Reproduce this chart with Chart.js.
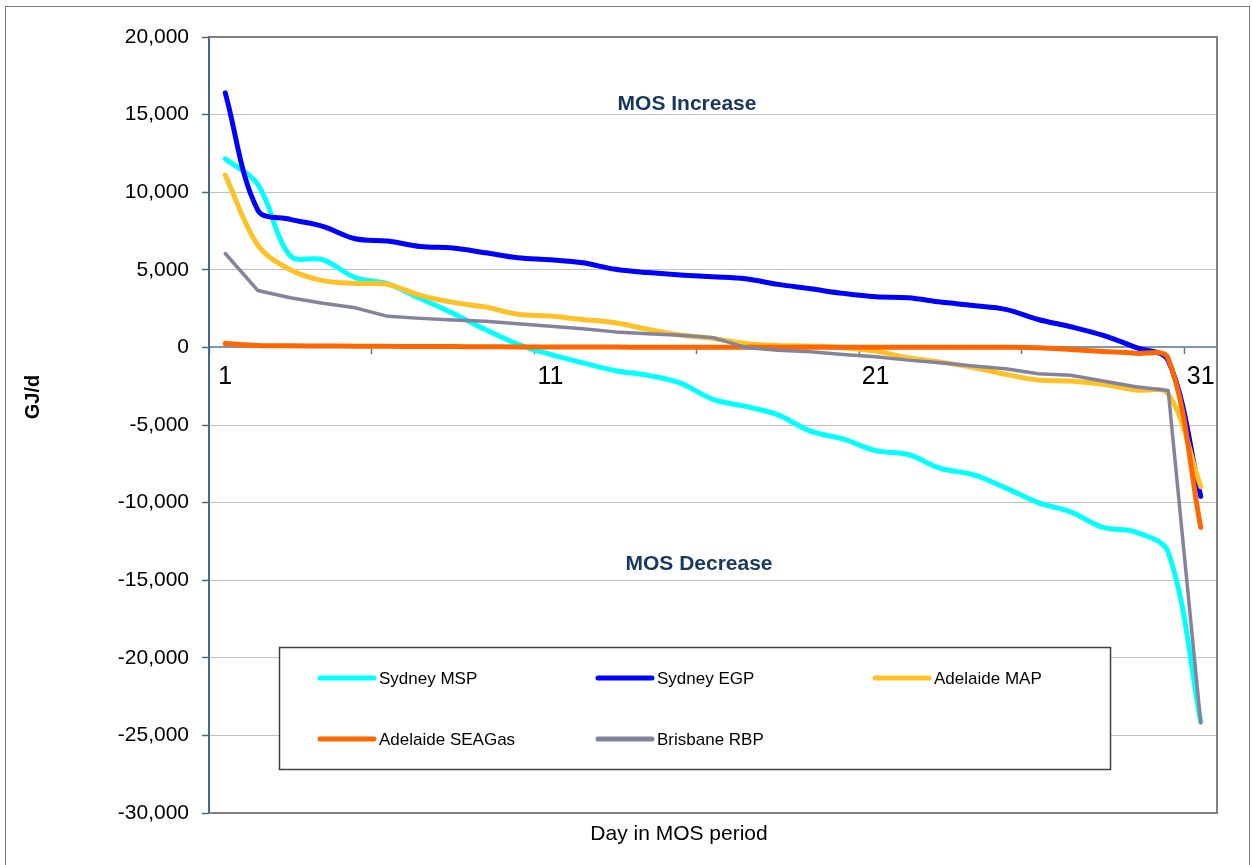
<!DOCTYPE html>
<html>
<head>
<meta charset="utf-8">
<script src="https://cdn.jsdelivr.net/npm/chart.js@4.4.1/dist/chart.umd.min.js"></script>
<style>
  html, body { margin: 0; padding: 0; background: #fff; }
  #wrap { position: relative; width: 1252px; height: 865px; }
</style>
</head>
<body>
<div id="wrap"><canvas id="myChart"></canvas></div>
<script>
var days = [1,2,3,4,5,6,7,8,9,10,11,12,13,14,15,16,17,18,19,20,21,22,23,24,25,26,27,28,29,30,31];
var tickDays = [1, 11, 21, 31];

var sydneyMSP = [12150, 10500, 5900, 5650, 4500, 4100, 3150, 2200, 1150, 200,
  -450, -1000, -1500, -1800, -2300, -3350, -3800, -4350, -5400, -5900,
  -6650, -6900, -7800, -8200, -9050, -10000, -10600, -11600, -11900, -13200, -24100];
var sydneyEGP = [16400, 8850, 8250, 7800, 7000, 6850, 6500, 6400, 6100, 5780,
  5650, 5450, 5030, 4820, 4660, 4550, 4420, 4060, 3780, 3480,
  3260, 3200, 2920, 2700, 2450, 1800, 1330, 770, 0, -850, -9600];
var adelaideMAP = [11100, 6600, 5000, 4300, 4120, 4060, 3350, 2900, 2600, 2130,
  2020, 1800, 1590, 1160, 800, 580, 260, 130, 80, -20,
  -240, -670, -950, -1300, -1740, -2100, -2170, -2380, -2750, -3000, -8980];
var adelaideSEAGas = [250, 130, 100, 90, 80, 70, 60, 50, 40, 30,
  25, 20, 20, 15, 15, 10, 10, 10, 10, 10,
  10, 10, 10, 10, 10, -20, -130, -260, -380, -700, -11600];
var brisbaneRBP = [6050, 3670, 3200, 2850, 2550, 2000, 1870, 1760, 1680, 1520,
  1370, 1200, 1000, 880, 780, 630, 0, -180, -280, -450,
  -600, -820, -990, -1200, -1370, -1700, -1800, -2170, -2530, -2780, -24200];

var FONT = "'Liberation Sans', Arial, sans-serif";

// frame, notes, axis titles and the boxed legend
var extras = {
  id: 'extras',
  beforeDatasetsDraw: function(chart) {
    var a = chart.chartArea, ctx = chart.ctx;
    ctx.save();
    ctx.strokeStyle = '#808080';
    ctx.lineWidth = 2;
    ctx.beginPath();
    ctx.moveTo(a.left, a.top);
    ctx.lineTo(a.right, a.top);
    ctx.lineTo(a.right, a.bottom);
    ctx.lineTo(a.left, a.bottom);
    ctx.stroke();
    ctx.restore();
  },
  afterDraw: function(chart) {
    var ctx = chart.ctx;
    ctx.save();
    // outer chart border
    ctx.strokeStyle = '#7a7a7a';
    ctx.lineWidth = 1;
    ctx.strokeRect(5.5, 6.5, 1244, 900);

    ctx.fillStyle = '#17375E';
    ctx.font = 'bold 21px ' + FONT;
    ctx.textAlign = 'center';
    ctx.textBaseline = 'middle';
    ctx.fillText('MOS Increase', 687, 104);
    ctx.fillText('MOS Decrease', 699, 564);

    ctx.fillStyle = '#000';
    ctx.font = '21px ' + FONT;
    ctx.fillText('Day in MOS period', 679, 834);

    ctx.save();
    ctx.translate(33, 397);
    ctx.rotate(-Math.PI / 2);
    ctx.font = 'bold 20px ' + FONT;
    ctx.fillText('GJ/d', 0, 0);
    ctx.restore();

    // legend box
    ctx.fillStyle = '#fff';
    ctx.fillRect(279.5, 647.5, 831, 122);
    ctx.strokeStyle = '#404040';
    ctx.lineWidth = 1.5;
    ctx.strokeRect(279.5, 647.5, 831, 122);
    var cols = [320, 598, 875];
    var rows = [678, 739];
    ctx.font = '17px ' + FONT;
    ctx.textAlign = 'left';
    chart.data.datasets.forEach(function(ds, i) {
      var x = cols[i % 3], y = rows[Math.floor(i / 3)];
      ctx.strokeStyle = ds.borderColor;
      ctx.lineWidth = 5;
      ctx.lineCap = 'round';
      ctx.beginPath();
      ctx.moveTo(x, y);
      ctx.lineTo(x + 54, y);
      ctx.stroke();
      ctx.fillStyle = '#000';
      ctx.fillText(ds.label, x + 59, y + 1);
    });
    ctx.restore();
  }
};

function series(label, data, color, width, tension, order) {
  return {
    label: label, data: data, borderColor: color, backgroundColor: color,
    borderWidth: width, tension: tension, pointRadius: 0,
    borderCapStyle: 'round', borderJoinStyle: 'round', fill: false, order: order
  };
}

new Chart('myChart', {
  type: 'line',
  data: {
    labels: days,
    datasets: [
      series('Sydney MSP', sydneyMSP, '#00FFFF', 5, 0.35, 5),
      series('Sydney EGP', sydneyEGP, '#0000FF', 5, 0.35, 4),
      series('Adelaide MAP', adelaideMAP, '#FFC125', 5, 0.35, 3),
      series('Adelaide SEAGas', adelaideSEAGas, '#FF6600', 5, 0.35, 2),
      series('Brisbane RBP', brisbaneRBP, '#83839E', 3.5, 0, 1)
    ]
  },
  options: {
    responsive: true,
    maintainAspectRatio: false,
    animation: false,
    layout: { padding: { left: 0, top: 37, right: 35, bottom: 52 } },
    plugins: { legend: { display: false }, tooltip: { enabled: false } },
    scales: {
      x: {
        type: 'category',
        position: { y: 0 },
        offset: true,
        grid: {
          offset: true,
          drawOnChartArea: false,
          drawTicks: true,
          tickLength: 6,
          tickWidth: 1.5,
          tickColor: function(c) { return (c.index !== undefined && c.index % 5 === 0) ? '#5A7896' : 'rgba(0,0,0,0)'; }
        },
        border: { display: true, color: '#7F96B0', width: 2 },
        ticks: {
          autoSkip: false,
          maxRotation: 0,
          minRotation: 0,
          padding: 9,
          color: '#000',
          font: { family: FONT, size: 25 },
          callback: function(v) {
            var d = this.getLabelForValue(v);
            return tickDays.indexOf(d) >= 0 ? String(d) : '';
          }
        }
      },
      y: {
        min: -30000,
        max: 20000,
        afterFit: function(scale) { scale.width = 209; },
        grid: { color: '#C0C0C0', lineWidth: 1, tickLength: 7, tickColor: '#4A6786', tickWidth: 1.5 },
        border: { display: true, color: '#4A6786', width: 2 },
        ticks: {
          stepSize: 5000,
          padding: 13,
          color: '#000',
          font: { family: FONT, size: 21 },
          callback: function(v) { return v.toLocaleString('en-US'); }
        }
      }
    }
  },
  plugins: [extras]
});
</script>
</body>
</html>
